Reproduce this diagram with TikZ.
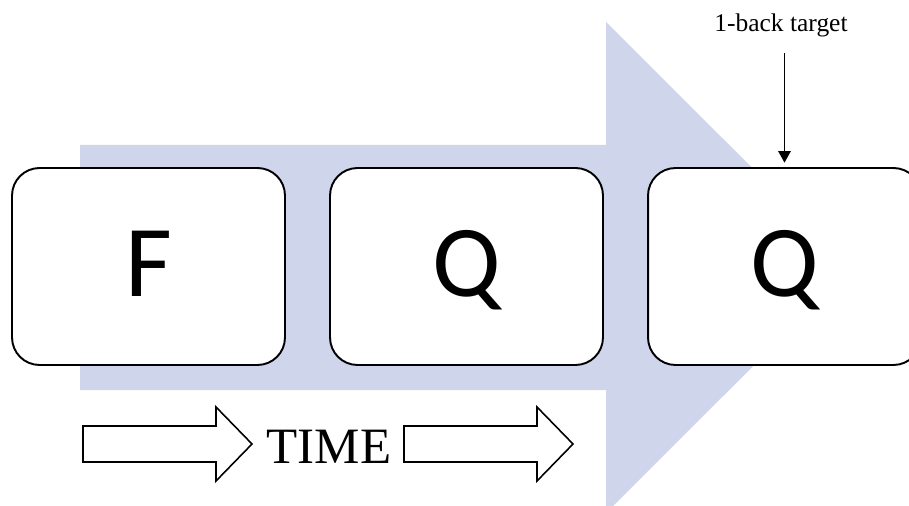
\documentclass[tikz,border=0pt]{standalone}
\usepackage{fontspec}
\setmainfont{Liberation Serif}
\newfontfamily\cardfont{Carlito}
\usetikzlibrary{calc,arrows.meta}
\definecolor{timeblue}{RGB}{207,213,234}
% hollow arrow along the time line, #1 is the middle of its back end
\def\hollowarrow(#1){\draw[timearrow] (#1) ++(0,-18) -- ++(133,0) -- ++(0,-19) -- ++(36,37) -- ++(-36,37) -- ++(0,-19) -- ++(-133,0) -- cycle;}

\begin{document}
\begin{tikzpicture}[x=0.02cm, y=-0.02cm,
		card/.style={draw, line width=1.1pt, fill=white, rounded corners=0.55cm,
			minimum width=5.46cm, minimum height=3.94cm, inner sep=0pt,
			font=\cardfont\fontsize{58}{70}\selectfont, text height=34pt, text depth=0pt},
		timearrow/.style={draw, line width=0.9pt, fill=white},
		cue/.style={-{Triangle[length=6.5pt, width=7pt]}, line width=0.8pt, shorten >=2.5pt}]
		%%%%% START %%%%%
		\clip (0, 0) rectangle (909, 506);
		
		% big background arrow
		\fill[timeblue] (80, 145) -- (606, 145) -- (606, 22) -- (852, 267.5) -- (606, 513) -- (606, 390) -- (80, 390) -- cycle;
		
		% the three stimuli
		\node[card] (first) at (148.5, 266.5) {F};
		\node[card] (second) at (466.5, 266.5) {Q};
		\node[card] (target) at (784.5, 266.5) {Q};
		
		% time line
		\hollowarrow(83, 444)
		\node[anchor=base, inner sep=0pt, font=\fontsize{29}{34}\selectfont] (time) at (329, 463) {TIME};
		\hollowarrow(404, 444)
		
		% target label
		\node[anchor=base, inner sep=0pt, font=\fontsize{14.5}{17}\selectfont] (label) at (781, 32) {1-back target};
		\draw[cue] ($(label.south -| target.north)+(0, 15)$) -- (target.north);
		%%%%% END %%%%%
	\end{tikzpicture}
\end{document}
